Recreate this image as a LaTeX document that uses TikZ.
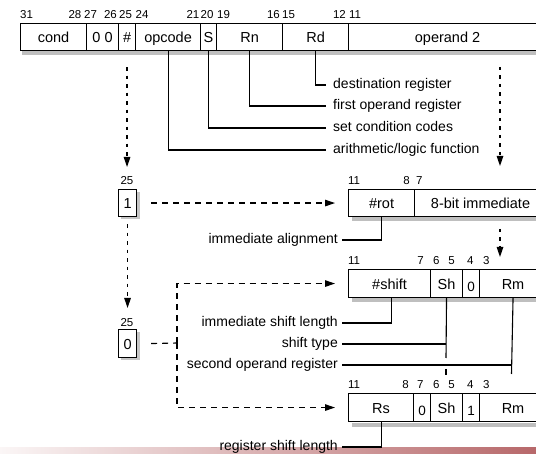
\documentclass[tikz,border=0pt]{standalone}
\usepackage{fontspec}
\setmainfont{Liberation Sans}
\usetikzlibrary{arrows.meta}
\definecolor{rose}{RGB}{183,104,106}
\newcommand\fldfont{\fontsize{14.5}{16}\selectfont}
\newcommand\lblfont{\fontsize{14}{16}\selectfont}
\newcommand\bitfont{\fontsize{11.5}{13}\selectfont}
\newcommand\smfont{\fontsize{13.5}{15}\selectfont}
\begin{document}
\begin{tikzpicture}[x=1pt,y=-1pt,
  fld/.style={draw, line width=1.1pt, fill=white, inner sep=0pt, anchor=north west,
    minimum height=27pt, text height=11.5pt, text depth=0.5pt, font=\fldfont},
  sfld/.style={fld, font=\smfont, text height=16pt, text depth=0pt},
  bit/.style={inner sep=0pt, font=\bitfont},
  bitw/.style={bit, anchor=base west},
  bite/.style={bit, anchor=base east},
  bitc/.style={bit, anchor=base},
  lbl/.style={inner sep=0pt, font=\lblfont, text height=10pt, text depth=3pt},
  conn/.style={line width=1.1pt},
  strip/.style={fill=gray!50},
  shadowbox/.style={fill=gray!45},
  arr/.style={-{Triangle[length=10pt,width=6.5pt]}},
  dsh/.style={line width=1.1pt, dash pattern=on 6pt off 5pt},
  dotl/.style={line width=1.2pt, dash pattern=on 3.5pt off 5pt}
]
\useasboundingbox (0,0) rectangle (536,454);
\clip (0,0) rectangle (536,454);
\fill[white] (0,0) rectangle (536,454);
\shade[left color=rose!6, right color=rose] (0,448) rectangle (536,454);

% ---------- top instruction word ----------
\fill[strip] (22,51) rectangle (546,55);
\node[fld, minimum width=66pt] (cond) at (20,23) {cond};
\node[fld, minimum width=32pt] (zz) at (86,23) {0 0};
\node[fld, minimum width=17pt] (hash) at (118,23) {\#};
\node[fld, minimum width=65pt] (opc) at (135,23) {opcode};
\node[fld, minimum width=16pt] (sbit) at (200,23) {S};
\node[fld, minimum width=66pt] (rn) at (216,23) {Rn};
\node[fld, minimum width=66pt] (rd) at (282,23) {Rd};
\node[fld, minimum width=198pt] (op2) at (348,23) {operand 2};

\node[bitw] (t31) at (20,19) {31};
\node[bite] (t28) at (81.5,19) {28};
\node[bitw] (t27) at (84,19) {27};
\node[bite] (t26) at (117,19) {26};
\node[bitw] (t25) at (119,19) {25};
\node[bitw] (t24) at (135.5,19) {24};
\node[bite] (t21) at (199.5,19) {21};
\node[bitw] (t20) at (200.5,19) {20};
\node[bitw] (t19) at (217,19) {19};
\node[bite] (t16) at (280,19) {16};
\node[bitw] (t15) at (282,19) {15};
\node[bite] (t12) at (346,19) {12};
\node[bitw] (t11) at (349,19) {11};
\node[bite] (t0) at (546,19) {0};

% labels of top fields
\node[lbl, anchor=west] (ldest) at (333,85) {destination register};
\node[lbl, anchor=west] (lfirst) at (333,106) {first operand register};
\node[lbl, anchor=west] (lset) at (333,128) {set condition codes};
\node[lbl, anchor=west] (larith) at (333,150) {arithmetic/logic function};
\draw[conn] (rd.south) |- ([xshift=-7pt]ldest.west);
\draw[conn] (rn.south) |- ([xshift=-7pt]lfirst.west);
\draw[conn] (sbit.south) |- ([xshift=-7pt]lset.west);
\draw[conn] (opc.south) |- ([xshift=-7pt]larith.west);

% ---------- immediate bit = 1 ----------
\node[bitc] (i25a) at (127,185) {25};
\fill[shadowbox] (121,192) rectangle (140,219);
\node[fld, minimum width=18pt] (one) at (118,189) {1};
\draw[dotl, arr, shorten <=16pt, shorten >=22pt] (hash.south) -- (hash.south |- one.north);

\coordinate (o2top) at (500,50);
\coordinate (o2bot) at (500,189);
\draw[dotl, arr, shorten <=17pt, shorten >=23pt] (o2top) -- (o2bot);

\fill[strip] (352,217) rectangle (546,221);
\node[fld, minimum width=66pt] (rot) at (348,189) {\#rot};
\node[fld, minimum width=132pt] (imm8) at (414,189) {8-bit immediate};
\node[bitw] (r11) at (348,185) {11};
\node[bite] (r8) at (410,185) {8};
\node[bitw] (r7) at (416,185) {7};
\node[bite] (r0) at (546,185) {0};
\draw[dsh, arr, shorten <=14pt, shorten >=13pt] (one.east) -- (one.east -| rot.west);

\node[lbl, anchor=east] (lalign) at (338,240) {immediate alignment};
\draw[conn] (rot.south) |- ([xshift=4pt]lalign.east);

\coordinate (i8top) at (500,216);
\coordinate (i8bot) at (500,269);
\draw[dotl, arr, shorten <=13pt, shorten >=12pt] (i8top) -- (i8bot);

% ---------- immediate shift ----------
\fill[strip] (352,298) rectangle (546,302);
\node[fld, minimum width=82pt, minimum height=28pt] (shift) at (348,269) {\#shift};
\node[fld, minimum width=32pt, minimum height=28pt] (sh) at (430,269) {Sh};
\node[sfld, minimum width=17pt, minimum height=28pt] (zb) at (462,269) {0};
\node[fld, minimum width=67pt, minimum height=28pt] (rm) at (479,269) {Rm};
\node[bitw] (s11) at (348,265) {11};
\node[bite] (s7) at (424,265) {7};
\node[bitw] (s6) at (433,265) {6};
\node[bite] (s5) at (455,265) {5};
\node[bitw] (s4) at (467,265) {4};
\node[bitw] (s3) at (483,265) {3};
\node[bite] (s0) at (546,265) {0};

\node[lbl, anchor=east] (lisl) at (338,323) {immediate shift length};
\node[lbl, anchor=east] (lst) at (338,344) {shift type};
\node[lbl, anchor=east] (lsor) at (338,365) {second operand register};
\draw[conn] ([xshift=2pt]shift.south) |- ([xshift=4pt]lisl.east);
\coordinate (shend) at (446,358);
\coordinate (rmend) at (511.5,374);
\draw[conn] (sh.south) -- (shend);
\draw[conn] ([xshift=4pt]lst.east) -- (lst.east -| shend);
\draw[conn] (rm.south) -- (rmend);
\draw[conn] ([xshift=4pt]lsor.east) -- (lsor.east -| rmend);

% ---------- immediate bit = 0 ----------
\node[bitc] (i25b) at (127,327) {25};
\fill[shadowbox] (121,332) rectangle (140,360);
\node[fld, minimum width=18pt, minimum height=28pt] (zero) at (118,329) {0};
\draw[dotl, arr, shorten <=7pt, shorten >=21pt] (one.south) -- (one.south |- zero.north);

\coordinate (jn) at (177,343);
\draw[dsh] ([xshift=14pt]zero.east) -- (jn);
\draw[dsh, arr, shorten >=13pt] (jn) |- (shift.west);

% ---------- register shift ----------
\fill[strip] (352,423) rectangle (546,427);
\node[fld, minimum width=65pt, minimum height=28pt] (rs) at (348,393) {Rs};
\node[sfld, minimum width=17pt, minimum height=28pt] (zc) at (413,393) {0};
\node[fld, minimum width=32pt, minimum height=28pt] (sh2) at (430,393) {Sh};
\node[sfld, minimum width=17pt, minimum height=28pt] (onec) at (462,393) {1};
\node[fld, minimum width=67pt, minimum height=28pt] (rm2) at (479,393) {Rm};
\node[bitw] (u11) at (348,389) {11};
\node[bite] (u8) at (409,389) {8};
\node[bitw] (u7) at (417,389) {7};
\node[bitw] (u6) at (433,389) {6};
\node[bite] (u5) at (455,389) {5};
\node[bitw] (u4) at (467,389) {4};
\node[bitw] (u3) at (483,389) {3};
\node[bite] (u0) at (546,389) {0};
\draw[dsh, arr, shorten >=13pt] (jn) |- (rs.west);

\coordinate (tick) at (446,369);
\draw[conn] (tick) -- ++(0,6);

\node[lbl, anchor=east] (lrsl) at (338,447) {register shift length};
\draw[conn] (rs.south) |- ([xshift=4pt]lrsl.east);
\end{tikzpicture}
\end{document}
